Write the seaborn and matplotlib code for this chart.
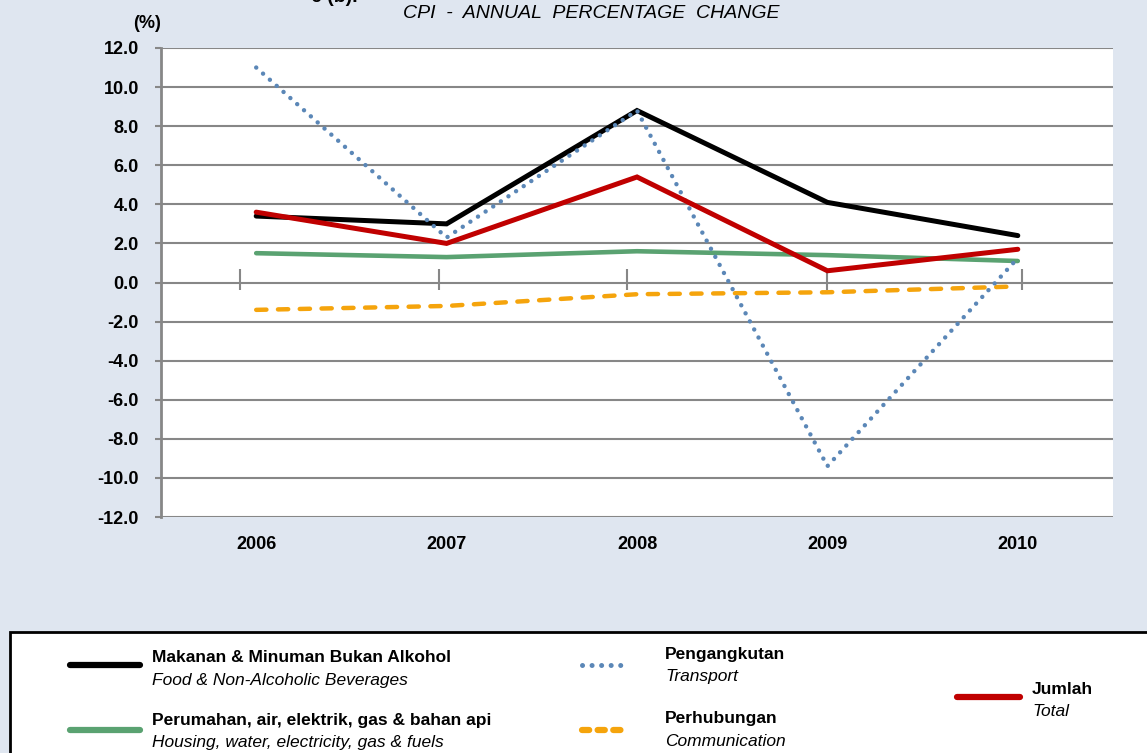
import numpy as np
import pandas as pd
import matplotlib
matplotlib.use("Agg")
import matplotlib.pyplot as plt
from matplotlib.lines import Line2D
from matplotlib.patches import Rectangle
import seaborn as sns

# ---------- data ----------
years = ["2006", "2007", "2008", "2009", "2010"]
food = [3.4, 3.0, 8.8, 4.1, 2.4]
housing = [1.5, 1.3, 1.6, 1.4, 1.1]
transport = [11.0, 2.3, 8.8, -9.4, 1.25]
communication = [-1.4, -1.2, -0.6, -0.5, -0.2]
total = [3.6, 2.0, 5.4, 0.6, 1.7]

y_ticks = [-12, -10, -8, -6, -4, -2, 0, 2, 4, 6, 8, 10, 12]

BG = "#dfe6f0"
GRID = "#878787"

series = [
    # key, values, colour, width, dashes
    ("Perumahan", housing, "#5aa271", 3.3, ""),
    ("Perhubungan", communication, "#f5a40c", 3.2, (2.3, 2.6)),
    ("Makanan", food, "#000000", 3.6, ""),
    ("Pengangkutan", transport, "#5b87b7", 3.2, (0.01, 2.05)),
    ("Jumlah", total, "#c00000", 3.6, ""),
]

df = pd.DataFrame({"Year": years})
df["pos"] = np.arange(len(years))
for key, vals, *_ in series:
    df[key] = vals
long = df.melt(id_vars=["Year", "pos"], var_name="Series", value_name="Value")

plt.rcParams["font.family"] = ["Liberation Sans Narrow", "Liberation Sans", "DejaVu Sans"]
plt.rcParams["axes.unicode_minus"] = False

fig = plt.figure(figsize=(11.47, 7.53), dpi=100, facecolor=BG)
ax = fig.add_axes([161 / 1147, 1 - 517 / 753, (1113 - 161) / 1147, (517 - 48) / 753])
ax.set_facecolor("white")

for key, vals, color, lw, dash in series:
    sub = long[long["Series"] == key]
    sns.lineplot(data=sub, x="pos", y="Value", ax=ax, color=color, linewidth=lw)
    ln = ax.lines[-1]
    ln.set_solid_capstyle("round")
    ln.set_solid_joinstyle("miter")
    if dash:
        ln.set_dashes(dash)
        ln.set_dash_capstyle("round")

ax.set_xlim(-0.5, 4.5)
ax.set_ylim(-12, 12)
ax.set_yticks(y_ticks)
ax.set_yticklabels([f"{v:.1f}" for v in y_ticks], fontsize=13, fontweight="bold")
ax.set_xticks(range(len(years)))
ax.set_xticklabels(years, fontsize=13, fontweight="bold")
ax.tick_params(axis="x", length=0, pad=14)
ax.tick_params(axis="y", length=4, width=1.5, color=GRID, pad=12)
ax.set_xlabel("")
ax.set_ylabel("")
for v in y_ticks:
    ax.axhline(v, color=GRID, linewidth=1.5, zorder=0.5)
for s in ["top", "right", "bottom"]:
    ax.spines[s].set_visible(False)
ax.spines["left"].set_color(GRID)
ax.spines["left"].set_linewidth(2)

# small category tick marks on the zero line
tick_pos = [-0.084, 0.96, 1.95, 3.0, 4.02]
ax.vlines(tick_pos, -0.4, 0.7, color=GRID, linewidth=1.5, zorder=0.6)

# titles
fig.text(334 / 1147, 1.003, "6 (b).", ha="center", va="center", fontsize=14, fontweight="bold")
fig.text(591 / 1147, 1 - 14 / 753, "CPI  -  ANNUAL  PERCENTAGE  CHANGE",
         ha="center", va="center", fontsize=14, style="italic")
fig.text(147 / 1147, 1 - 24 / 753, "(%)", ha="center", va="center", fontsize=13, fontweight="bold")

# ---------- legend box ----------
fig.patches.append(Rectangle((10 / 1147, -0.01), 1.2, 1 - 632 / 753 + 0.01,
                             transform=fig.transFigure, facecolor="white",
                             edgecolor="black", linewidth=2, zorder=0))


def px(x, y):
    return x / 1147, 1 - y / 753


legend_items = [
    # colour, width, dashes, line x0, x1, line y, text x, text y, bold, italic
    ("#000000", 4.5, "", 70, 140, 665, 152, 658, "Makanan & Minuman Bukan Alkohol",
     "Food & Non-Alcoholic Beverages"),
    ("#5aa271", 4.5, "", 70, 140, 730, 152, 720, "Perumahan, air, elektrik, gas & bahan api",
     "Housing, water, electricity, gas & fuels"),
    ("#5b87b7", 3.6, (0.01, 1.9), 582, 625, 665, 665, 655, "Pengangkutan", "Transport"),
    ("#f5a40c", 4.5, (1.15, 1.35), 582, 625, 730, 665, 719, "Perhubungan", "Communication"),
    ("#c00000", 4.5, "", 957, 1020, 697, 1032, 690, "Jumlah", "Total"),
]
for color, lw, dash, x0, x1, ly, tx, ty, bold, ital in legend_items:
    (a0, b0), (a1, _) = px(x0, ly), px(x1, ly)
    ln = Line2D([a0, a1], [b0, b0], transform=fig.transFigure, color=color,
                linewidth=lw, solid_capstyle="round", dash_capstyle="round")
    if dash:
        ln.set_dashes(dash)
    fig.lines.append(ln)
    fig.text(*px(tx, ty), bold, ha="left", va="center", fontsize=12.5, fontweight="bold")
    fig.text(*px(tx, ty + 22), ital, ha="left", va="center", fontsize=12.5, style="italic")

fig.savefig("out.png", dpi=100, facecolor=BG)
